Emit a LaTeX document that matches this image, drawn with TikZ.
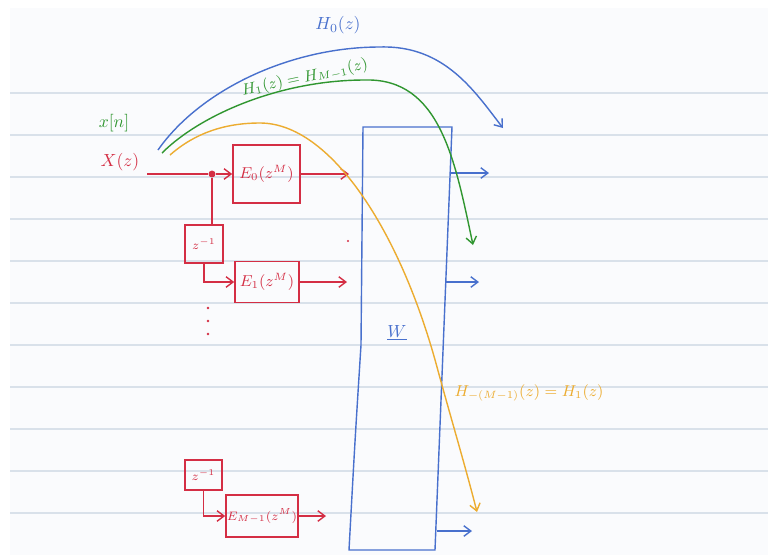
\documentclass[tikz,border=0pt]{standalone}
\usepackage{amsmath, amssymb}
\usepackage{xcolor}
\usepackage{tikz}
\usetikzlibrary{arrows.meta, calc}
\definecolor{penred}{RGB}{212,46,68}
\definecolor{penblue}{RGB}{72,112,205}
\definecolor{pengreen}{RGB}{48,150,48}
\definecolor{penorange}{RGB}{236,172,48}
\definecolor{papercol}{RGB}{250,251,253}
\definecolor{rulecol}{RGB}{217,225,234}
\tikzstyle{block} = [rectangle, draw=penred, line width=0.9pt,
    text=penred, font=\small, inner sep=1pt]
\tikzstyle{delay} = [block, font=\scriptsize]
\tikzstyle{arrow} = [line width=0.8pt,->,>={Straight Barb[length=4pt,width=6pt]}]
\tikzstyle{wire} = [line width=0.8pt, draw=penred]

\begin{document}
\begin{tikzpicture}[x=0.02cm, y=-0.02cm]
  \useasboundingbox (0,0) rectangle (768,555);
  \fill[papercol] (10,8) rectangle (768,555);
  \foreach \k in {0,...,10}
    \draw[rulecol, line width=0.6pt] (10,93+42*\k) -- (768,93+42*\k);

  \node[text=pengreen] (xn) at (114,123) {$x[n]$};
  \node[text=penred] (Xz) at (120,162) {$X(z)$};
  \coordinate (xin) at (147,174);
  \node[circle, fill=penred, inner sep=1.4pt] (split) at (212,174) {};

  \node (E0) [block, minimum width=1.34cm, minimum height=1.16cm] at (266.5,174) {$E_0(z^M)$};
  \node (D1) [delay, minimum width=0.76cm, minimum height=0.76cm] at (204,244) {$z^{-1}$};
  \node (E1) [block, minimum width=1.28cm, minimum height=0.82cm] at (267,282) {$E_1(z^M)$};
  \node (D2) [delay, minimum width=0.74cm, minimum height=0.6cm] at (203.5,475) {$z^{-1}$};
  \node (EM) [block, font=\scriptsize, inner sep=0.5pt, minimum width=1.3cm, minimum height=0.84cm] at (262,516) {$E_{M-1}(z^M)$};

  \foreach \y in {308,321,334}
    \fill[penred] (208,\y) circle (0.8pt);
  \fill[penred] (348,241) circle (0.7pt);

  \coordinate (w0) at (349,174);
  \coordinate (w1) at (347,282);
  \coordinate (wM) at (326,516);

  \draw[wire] (xin) -- (split);
  \draw[wire, arrow] (split) -- (E0);
  \draw[wire] (split) -- (split |- D1.north);
  \draw[wire, arrow] (D1) |- (E1);
  \draw[wire, arrow] (D2) |- (EM);
  \draw[wire, arrow] (E0) -- (w0);
  \draw[wire, arrow] (E1) -- (w1);
  \draw[wire, arrow] (EM) -- (wM);

  \coordinate (Wtl) at (363,127);
  \coordinate (Wtr) at (452,127);
  \coordinate (Wbr) at (435,550);
  \coordinate (Wbl) at (349,550);
  \coordinate (Wml) at (361,345);
  \draw[penblue, line width=0.8pt] (Wtl) -- (Wtr) -- (Wbr) -- (Wbl)
    .. controls (355,440) .. (Wml) -- cycle;
  \node[text=penblue] (W) at (397,333) {$\underline{W}$};

  \coordinate (o0a) at (451,173);
  \coordinate (o0b) at (489,173);
  \coordinate (o1a) at (445,282);
  \coordinate (o1b) at (479,282);
  \coordinate (o2a) at (437,531);
  \coordinate (o2b) at (472,531);
  \draw[penblue, arrow] (o0a) -- (o0b);
  \draw[penblue, arrow] (o1a) -- (o1b);
  \draw[penblue, arrow] (o2a) -- (o2b);

  \coordinate (hb0) at (158,150);
  \coordinate (hb1) at (503,128);
  \coordinate (hg0) at (162,153);
  \coordinate (hg1) at (473,245);
  \coordinate (ho0) at (170,155);
  \coordinate (ho1) at (477,512);
  \draw[penblue, arrow] (hb0) .. controls (200,90) and (290,47) .. (380,47)
    .. controls (445,45) and (475,92) .. (hb1);
  \draw[pengreen, arrow] (hg0) .. controls (200,115) and (280,80) .. (365,80)
    .. controls (440,78) and (455,160) .. (hg1);
  \draw[penorange, arrow] (ho0) .. controls (195,133) and (225,123) .. (260,123)
    .. controls (330,123) and (400,230) .. (437,367)
    .. controls (450,415) and (465,465) .. (ho1);

  \node[text=penblue] (H0) at (338,25) {$H_0(z)$};
  \node[text=pengreen, font=\small, rotate=12] (H1) at (305,78) {$H_1(z) = H_{M-1}(z)$};
  \node[text=penorange, font=\small] (Hm) at (529,393) {$H_{-(M-1)}(z) = H_1(z)$};
\end{tikzpicture}
\end{document}
